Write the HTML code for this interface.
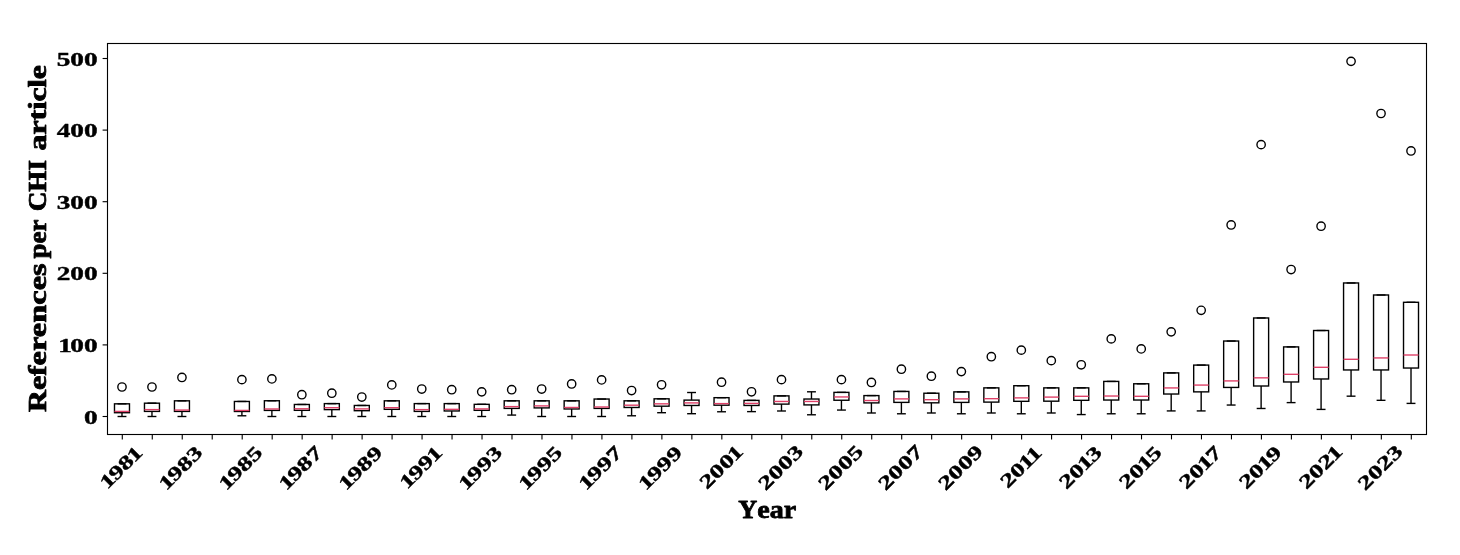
<!DOCTYPE html>
<html><head><meta charset="utf-8"><title>References per CHI article</title>
<style>
html,body{margin:0;padding:0;background:#fff;}
body{width:1460px;height:555px;overflow:hidden;font-family:"Liberation Serif",serif;}
svg{display:block;will-change:transform;}
text{font-family:"Liberation Serif",serif;font-weight:bold;fill:#000;}
</style></head><body>
<svg width="1460" height="555" viewBox="0 0 1460 555">
<rect x="0" y="0" width="1460" height="555" fill="#ffffff"/>

<g fill="none" stroke="#000" stroke-width="1.39" stroke-linecap="butt">
<path d="M121.99 412.71V416.50"/>
<path d="M118.24 416.50H125.74" stroke-linecap="square"/>
<path d="M118.24 403.83H125.74" stroke-linecap="square"/>
<rect x="114.49" y="403.83" width="14.99" height="8.88"/>
<path d="M151.97 411.42V416.50"/>
<path d="M148.22 416.50H155.71" stroke-linecap="square"/>
<path d="M148.22 403.18H155.71" stroke-linecap="square"/>
<rect x="144.47" y="403.18" width="14.99" height="8.23"/>
<path d="M181.94 411.42V416.50"/>
<path d="M178.20 416.50H185.69" stroke-linecap="square"/>
<path d="M178.20 400.82H185.69" stroke-linecap="square"/>
<rect x="174.45" y="400.82" width="14.99" height="10.60"/>
<path d="M241.90 411.49V415.78"/>
<path d="M238.15 415.78H245.64" stroke-linecap="square"/>
<path d="M238.15 401.46H245.64" stroke-linecap="square"/>
<rect x="234.40" y="401.46" width="14.99" height="10.02"/>
<path d="M271.88 410.41V416.50"/>
<path d="M268.13 416.50H275.62" stroke-linecap="square"/>
<path d="M268.13 400.75H275.62" stroke-linecap="square"/>
<rect x="264.38" y="400.75" width="14.99" height="9.67"/>
<path d="M301.85 410.34V416.50"/>
<path d="M298.11 416.50H305.60" stroke-linecap="square"/>
<path d="M298.11 404.47H305.60" stroke-linecap="square"/>
<rect x="294.36" y="404.47" width="14.99" height="5.87"/>
<path d="M331.83 409.63V416.50"/>
<path d="M328.08 416.50H335.58" stroke-linecap="square"/>
<path d="M328.08 403.61H335.58" stroke-linecap="square"/>
<rect x="324.34" y="403.61" width="14.99" height="6.01"/>
<path d="M361.81 410.70V416.50"/>
<path d="M358.06 416.50H365.55" stroke-linecap="square"/>
<path d="M358.06 405.47H365.55" stroke-linecap="square"/>
<rect x="354.31" y="405.47" width="14.99" height="5.23"/>
<path d="M391.78 409.34V416.50"/>
<path d="M388.04 416.50H395.53" stroke-linecap="square"/>
<path d="M388.04 400.82H395.53" stroke-linecap="square"/>
<rect x="384.29" y="400.82" width="14.99" height="8.52"/>
<path d="M421.76 411.42V416.50"/>
<path d="M418.01 416.50H425.51" stroke-linecap="square"/>
<path d="M418.01 403.61H425.51" stroke-linecap="square"/>
<rect x="414.27" y="403.61" width="14.99" height="7.80"/>
<path d="M451.74 410.99V416.50"/>
<path d="M447.99 416.50H455.49" stroke-linecap="square"/>
<path d="M447.99 403.61H455.49" stroke-linecap="square"/>
<rect x="444.24" y="403.61" width="14.99" height="7.37"/>
<path d="M481.72 410.34V416.50"/>
<path d="M477.97 416.50H485.46" stroke-linecap="square"/>
<path d="M477.97 404.33H485.46" stroke-linecap="square"/>
<rect x="474.22" y="404.33" width="14.99" height="6.01"/>
<path d="M511.69 408.41V415.07"/>
<path d="M507.95 415.07H515.44" stroke-linecap="square"/>
<path d="M507.95 400.82H515.44" stroke-linecap="square"/>
<rect x="504.20" y="400.82" width="14.99" height="7.59"/>
<path d="M541.67 407.91V416.50"/>
<path d="M537.92 416.50H545.42" stroke-linecap="square"/>
<path d="M537.92 400.82H545.42" stroke-linecap="square"/>
<rect x="534.18" y="400.82" width="14.99" height="7.09"/>
<path d="M571.65 408.98V416.50"/>
<path d="M567.90 416.50H575.39" stroke-linecap="square"/>
<path d="M567.90 400.82H575.39" stroke-linecap="square"/>
<rect x="564.15" y="400.82" width="14.99" height="8.16"/>
<path d="M601.62 408.41V416.50"/>
<path d="M597.88 416.50H605.37" stroke-linecap="square"/>
<path d="M597.88 399.03H605.37" stroke-linecap="square"/>
<rect x="594.13" y="399.03" width="14.99" height="9.38"/>
<path d="M631.60 407.48V415.78"/>
<path d="M627.86 415.78H635.35" stroke-linecap="square"/>
<path d="M627.86 400.82H635.35" stroke-linecap="square"/>
<rect x="624.11" y="400.82" width="14.99" height="6.66"/>
<path d="M661.58 406.19V412.71"/>
<path d="M657.83 412.71H665.33" stroke-linecap="square"/>
<path d="M657.83 398.81H665.33" stroke-linecap="square"/>
<rect x="654.09" y="398.81" width="14.99" height="7.37"/>
<path d="M691.56 405.47V413.71"/>
<path d="M687.81 413.71H695.30" stroke-linecap="square"/>
<path d="M691.56 400.10V392.51"/>
<path d="M687.81 392.51H695.30" stroke-linecap="square"/>
<rect x="684.06" y="400.10" width="14.99" height="5.37"/>
<path d="M721.53 405.19V411.77"/>
<path d="M717.79 411.77H725.28" stroke-linecap="square"/>
<path d="M717.79 397.67H725.28" stroke-linecap="square"/>
<rect x="714.04" y="397.67" width="14.99" height="7.52"/>
<path d="M751.51 405.47V411.63"/>
<path d="M747.76 411.63H755.26" stroke-linecap="square"/>
<path d="M747.76 400.39H755.26" stroke-linecap="square"/>
<rect x="744.02" y="400.39" width="14.99" height="5.08"/>
<path d="M781.49 404.11V410.99"/>
<path d="M777.74 410.99H785.24" stroke-linecap="square"/>
<path d="M777.74 395.88H785.24" stroke-linecap="square"/>
<rect x="773.99" y="395.88" width="14.99" height="8.23"/>
<path d="M811.47 404.90V414.78"/>
<path d="M807.72 414.78H815.21" stroke-linecap="square"/>
<path d="M811.47 399.03V391.80"/>
<path d="M807.72 391.80H815.21" stroke-linecap="square"/>
<rect x="803.97" y="399.03" width="14.99" height="5.87"/>
<path d="M841.44 400.25V410.06"/>
<path d="M837.70 410.06H845.19" stroke-linecap="square"/>
<path d="M837.70 392.37H845.19" stroke-linecap="square"/>
<rect x="833.95" y="392.37" width="14.99" height="7.88"/>
<path d="M871.42 402.90V412.99"/>
<path d="M867.67 412.99H875.17" stroke-linecap="square"/>
<path d="M867.67 395.59H875.17" stroke-linecap="square"/>
<rect x="863.93" y="395.59" width="14.99" height="7.30"/>
<path d="M901.40 402.39V413.78"/>
<path d="M897.65 413.78H905.14" stroke-linecap="square"/>
<path d="M897.65 391.44H905.14" stroke-linecap="square"/>
<rect x="893.90" y="391.44" width="14.99" height="10.95"/>
<path d="M931.38 402.82V412.99"/>
<path d="M927.63 412.99H935.12" stroke-linecap="square"/>
<path d="M927.63 393.23H935.12" stroke-linecap="square"/>
<rect x="923.88" y="393.23" width="14.99" height="9.59"/>
<path d="M961.35 402.39V413.78"/>
<path d="M957.61 413.78H965.10" stroke-linecap="square"/>
<path d="M957.61 391.87H965.10" stroke-linecap="square"/>
<rect x="953.86" y="391.87" width="14.99" height="10.53"/>
<path d="M991.33 402.11V412.99"/>
<path d="M987.58 412.99H995.08" stroke-linecap="square"/>
<path d="M987.58 387.86H995.08" stroke-linecap="square"/>
<rect x="983.84" y="387.86" width="14.99" height="14.25"/>
<path d="M1021.31 401.32V413.78"/>
<path d="M1017.56 413.78H1025.05" stroke-linecap="square"/>
<path d="M1017.56 385.71H1025.05" stroke-linecap="square"/>
<rect x="1013.81" y="385.71" width="14.99" height="15.61"/>
<path d="M1051.28 401.18V412.99"/>
<path d="M1047.54 412.99H1055.03" stroke-linecap="square"/>
<path d="M1047.54 387.86H1055.03" stroke-linecap="square"/>
<rect x="1043.79" y="387.86" width="14.99" height="13.32"/>
<path d="M1081.26 400.32V414.57"/>
<path d="M1077.51 414.57H1085.01" stroke-linecap="square"/>
<path d="M1077.51 387.86H1085.01" stroke-linecap="square"/>
<rect x="1073.77" y="387.86" width="14.99" height="12.46"/>
<path d="M1111.24 400.03V413.78"/>
<path d="M1107.49 413.78H1114.99" stroke-linecap="square"/>
<path d="M1107.49 381.42H1114.99" stroke-linecap="square"/>
<rect x="1103.74" y="381.42" width="14.99" height="18.62"/>
<path d="M1141.22 400.03V413.78"/>
<path d="M1137.47 413.78H1144.96" stroke-linecap="square"/>
<path d="M1137.47 383.78H1144.96" stroke-linecap="square"/>
<rect x="1133.72" y="383.78" width="14.99" height="16.25"/>
<path d="M1171.19 394.02V410.92"/>
<path d="M1167.45 410.92H1174.94" stroke-linecap="square"/>
<path d="M1167.45 372.90H1174.94" stroke-linecap="square"/>
<rect x="1163.70" y="372.90" width="14.99" height="21.12"/>
<path d="M1201.17 391.87V410.92"/>
<path d="M1197.42 410.92H1204.92" stroke-linecap="square"/>
<path d="M1197.42 365.09H1204.92" stroke-linecap="square"/>
<rect x="1193.68" y="365.09" width="14.99" height="26.78"/>
<path d="M1231.15 387.43V405.04"/>
<path d="M1227.40 405.04H1234.89" stroke-linecap="square"/>
<path d="M1227.40 341.03H1234.89" stroke-linecap="square"/>
<rect x="1223.65" y="341.03" width="14.99" height="46.40"/>
<path d="M1261.12 386.00V408.48"/>
<path d="M1257.38 408.48H1264.87" stroke-linecap="square"/>
<path d="M1257.38 317.98H1264.87" stroke-linecap="square"/>
<rect x="1253.63" y="317.98" width="14.99" height="68.02"/>
<path d="M1291.10 381.99V402.61"/>
<path d="M1287.36 402.61H1294.85" stroke-linecap="square"/>
<path d="M1287.36 346.90H1294.85" stroke-linecap="square"/>
<rect x="1283.61" y="346.90" width="14.99" height="35.08"/>
<path d="M1321.08 378.98V409.41"/>
<path d="M1317.33 409.41H1324.83" stroke-linecap="square"/>
<path d="M1317.33 330.51H1324.83" stroke-linecap="square"/>
<rect x="1313.59" y="330.51" width="14.99" height="48.47"/>
<path d="M1351.06 369.96V396.17"/>
<path d="M1347.31 396.17H1354.80" stroke-linecap="square"/>
<path d="M1347.31 282.97H1354.80" stroke-linecap="square"/>
<rect x="1343.56" y="282.97" width="14.99" height="86.99"/>
<path d="M1381.03 369.96V400.32"/>
<path d="M1377.29 400.32H1384.78" stroke-linecap="square"/>
<path d="M1377.29 294.99H1384.78" stroke-linecap="square"/>
<rect x="1373.54" y="294.99" width="14.99" height="74.97"/>
<path d="M1411.01 368.03V403.40"/>
<path d="M1407.26 403.40H1414.76" stroke-linecap="square"/>
<path d="M1407.26 302.30H1414.76" stroke-linecap="square"/>
<rect x="1403.52" y="302.30" width="14.99" height="65.73"/>
</g>
<g fill="none" stroke="#de3f67" stroke-width="1.39">
<path d="M114.49 411.42H129.48"/>
<path d="M144.47 409.63H159.46"/>
<path d="M174.45 410.06H189.44"/>
<path d="M234.40 410.41H249.39"/>
<path d="M264.38 408.98H279.37"/>
<path d="M294.36 408.77H309.35"/>
<path d="M324.34 407.69H339.32"/>
<path d="M354.31 408.91H369.30"/>
<path d="M384.29 407.69H399.28"/>
<path d="M414.27 409.63H429.26"/>
<path d="M444.24 409.34H459.23"/>
<path d="M474.22 408.91H489.21"/>
<path d="M504.20 406.62H519.19"/>
<path d="M534.18 405.90H549.16"/>
<path d="M564.15 407.48H579.14"/>
<path d="M594.13 406.98H609.12"/>
<path d="M624.11 405.19H639.10"/>
<path d="M654.09 403.83H669.07"/>
<path d="M684.06 402.90H699.05"/>
<path d="M714.04 403.61H729.03"/>
<path d="M744.02 403.40H759.01"/>
<path d="M773.99 401.46H788.98"/>
<path d="M803.97 401.46H818.96"/>
<path d="M833.95 396.95H848.94"/>
<path d="M863.93 400.53H878.91"/>
<path d="M893.90 398.89H908.89"/>
<path d="M923.88 399.67H938.87"/>
<path d="M953.86 398.89H968.85"/>
<path d="M983.84 398.67H998.82"/>
<path d="M1013.81 397.88H1028.80"/>
<path d="M1043.79 397.10H1058.78"/>
<path d="M1073.77 396.31H1088.76"/>
<path d="M1103.74 396.02H1118.73"/>
<path d="M1133.72 396.31H1148.71"/>
<path d="M1163.70 387.93H1178.69"/>
<path d="M1193.68 385.07H1208.66"/>
<path d="M1223.65 380.91H1238.64"/>
<path d="M1253.63 377.84H1268.62"/>
<path d="M1283.61 374.33H1298.60"/>
<path d="M1313.59 367.31H1328.57"/>
<path d="M1343.56 359.29H1358.55"/>
<path d="M1373.54 357.93H1388.53"/>
<path d="M1403.52 355.00H1418.51"/>
</g>
<g fill="none" stroke="#000" stroke-width="1.39">
<circle cx="121.99" cy="387.00" r="4.17"/>
<circle cx="151.97" cy="387.00" r="4.17"/>
<circle cx="181.94" cy="377.48" r="4.17"/>
<circle cx="241.90" cy="379.63" r="4.17"/>
<circle cx="271.88" cy="378.91" r="4.17"/>
<circle cx="301.85" cy="394.73" r="4.17"/>
<circle cx="331.83" cy="393.23" r="4.17"/>
<circle cx="361.81" cy="397.02" r="4.17"/>
<circle cx="391.78" cy="384.92" r="4.17"/>
<circle cx="421.76" cy="389.01" r="4.17"/>
<circle cx="451.74" cy="389.72" r="4.17"/>
<circle cx="481.72" cy="391.87" r="4.17"/>
<circle cx="511.69" cy="389.72" r="4.17"/>
<circle cx="541.67" cy="389.01" r="4.17"/>
<circle cx="571.65" cy="383.99" r="4.17"/>
<circle cx="601.62" cy="379.91" r="4.17"/>
<circle cx="631.60" cy="390.51" r="4.17"/>
<circle cx="661.58" cy="384.78" r="4.17"/>
<circle cx="721.53" cy="382.20" r="4.17"/>
<circle cx="751.51" cy="391.80" r="4.17"/>
<circle cx="781.49" cy="379.63" r="4.17"/>
<circle cx="841.44" cy="379.63" r="4.17"/>
<circle cx="871.42" cy="382.49" r="4.17"/>
<circle cx="901.40" cy="369.24" r="4.17"/>
<circle cx="931.38" cy="376.19" r="4.17"/>
<circle cx="961.35" cy="371.61" r="4.17"/>
<circle cx="991.33" cy="356.71" r="4.17"/>
<circle cx="1021.31" cy="350.13" r="4.17"/>
<circle cx="1051.28" cy="360.65" r="4.17"/>
<circle cx="1081.26" cy="364.80" r="4.17"/>
<circle cx="1111.24" cy="338.89" r="4.17"/>
<circle cx="1141.22" cy="348.91" r="4.17"/>
<circle cx="1171.19" cy="331.87" r="4.17"/>
<circle cx="1201.17" cy="310.32" r="4.17"/>
<circle cx="1231.15" cy="224.97" r="4.17"/>
<circle cx="1261.12" cy="144.63" r="4.17"/>
<circle cx="1291.10" cy="269.51" r="4.17"/>
<circle cx="1321.08" cy="226.19" r="4.17"/>
<circle cx="1351.06" cy="61.36" r="4.17"/>
<circle cx="1381.03" cy="113.49" r="4.17"/>
<circle cx="1411.01" cy="150.94" r="4.17"/>
</g>
<rect x="107.5" y="43.5" width="1319.0" height="391.0" fill="none" stroke="#000" stroke-width="1.11"/>
<g stroke="#000" stroke-width="1.11">
<path d="M122.29 434.5V439.4"/>
<path d="M152.27 434.5V439.4"/>
<path d="M182.24 434.5V439.4"/>
<path d="M212.22 434.5V439.4"/>
<path d="M242.20 434.5V439.4"/>
<path d="M272.18 434.5V439.4"/>
<path d="M302.15 434.5V439.4"/>
<path d="M332.13 434.5V439.4"/>
<path d="M362.11 434.5V439.4"/>
<path d="M392.08 434.5V439.4"/>
<path d="M422.06 434.5V439.4"/>
<path d="M452.04 434.5V439.4"/>
<path d="M482.02 434.5V439.4"/>
<path d="M511.99 434.5V439.4"/>
<path d="M541.97 434.5V439.4"/>
<path d="M571.95 434.5V439.4"/>
<path d="M601.92 434.5V439.4"/>
<path d="M631.90 434.5V439.4"/>
<path d="M661.88 434.5V439.4"/>
<path d="M691.86 434.5V439.4"/>
<path d="M721.83 434.5V439.4"/>
<path d="M751.81 434.5V439.4"/>
<path d="M781.79 434.5V439.4"/>
<path d="M811.77 434.5V439.4"/>
<path d="M841.74 434.5V439.4"/>
<path d="M871.72 434.5V439.4"/>
<path d="M901.70 434.5V439.4"/>
<path d="M931.67 434.5V439.4"/>
<path d="M961.65 434.5V439.4"/>
<path d="M991.63 434.5V439.4"/>
<path d="M1021.61 434.5V439.4"/>
<path d="M1051.58 434.5V439.4"/>
<path d="M1081.56 434.5V439.4"/>
<path d="M1111.54 434.5V439.4"/>
<path d="M1141.52 434.5V439.4"/>
<path d="M1171.49 434.5V439.4"/>
<path d="M1201.47 434.5V439.4"/>
<path d="M1231.45 434.5V439.4"/>
<path d="M1261.42 434.5V439.4"/>
<path d="M1291.40 434.5V439.4"/>
<path d="M1321.38 434.5V439.4"/>
<path d="M1351.36 434.5V439.4"/>
<path d="M1381.33 434.5V439.4"/>
<path d="M1411.31 434.5V439.4"/>
<path d="M107.5 416.50H102.6"/>
<path d="M107.5 344.90H102.6"/>
<path d="M107.5 273.30H102.6"/>
<path d="M107.5 201.70H102.6"/>
<path d="M107.5 130.10H102.6"/>
<path d="M107.5 58.50H102.6"/>
</g>
<text transform="translate(97.60 423.50) scale(1.4200 1)" x="-9.60" y="0" font-size="19.20" stroke="#000" stroke-width="0.40" stroke-linejoin="round">0</text>
<text transform="translate(97.60 351.90) scale(1.4200 1)" x="-27.75 -19.20 -9.60" y="0" font-size="19.20" stroke="#000" stroke-width="0.40" stroke-linejoin="round">100</text>
<text transform="translate(97.60 280.30) scale(1.4200 1)" x="-28.80 -19.20 -9.60" y="0" font-size="19.20" stroke="#000" stroke-width="0.40" stroke-linejoin="round">200</text>
<text transform="translate(97.60 208.70) scale(1.4200 1)" x="-28.80 -19.20 -9.60" y="0" font-size="19.20" stroke="#000" stroke-width="0.40" stroke-linejoin="round">300</text>
<text transform="translate(97.60 137.10) scale(1.4200 1)" x="-28.80 -19.20 -9.60" y="0" font-size="19.20" stroke="#000" stroke-width="0.40" stroke-linejoin="round">400</text>
<text transform="translate(97.60 65.50) scale(1.4200 1)" x="-28.80 -19.20 -9.60" y="0" font-size="19.20" stroke="#000" stroke-width="0.40" stroke-linejoin="round">500</text>
<g transform="translate(120.89 467.2) rotate(-45)"><text transform="translate(0.00 6.60) scale(1.4200 1)" x="-18.15 -9.60 -0.00 8.55" y="0" font-size="19.20" stroke="#000" stroke-width="0.40" stroke-linejoin="round">1981</text></g>
<g transform="translate(180.84 467.2) rotate(-45)"><text transform="translate(0.00 6.60) scale(1.4200 1)" x="-19.20 -10.65 -1.05 8.55" y="0" font-size="19.20" stroke="#000" stroke-width="0.40" stroke-linejoin="round">1983</text></g>
<g transform="translate(240.80 467.2) rotate(-45)"><text transform="translate(0.00 6.60) scale(1.4200 1)" x="-19.20 -10.65 -1.05 8.55" y="0" font-size="19.20" stroke="#000" stroke-width="0.40" stroke-linejoin="round">1985</text></g>
<g transform="translate(300.75 467.2) rotate(-45)"><text transform="translate(0.00 6.60) scale(1.4200 1)" x="-19.20 -10.65 -1.05 8.55" y="0" font-size="19.20" stroke="#000" stroke-width="0.40" stroke-linejoin="round">1987</text></g>
<g transform="translate(360.71 467.2) rotate(-45)"><text transform="translate(0.00 6.60) scale(1.4200 1)" x="-19.20 -10.65 -1.05 8.55" y="0" font-size="19.20" stroke="#000" stroke-width="0.40" stroke-linejoin="round">1989</text></g>
<g transform="translate(420.66 467.2) rotate(-45)"><text transform="translate(0.00 6.60) scale(1.4200 1)" x="-18.15 -9.60 -0.00 8.55" y="0" font-size="19.20" stroke="#000" stroke-width="0.40" stroke-linejoin="round">1991</text></g>
<g transform="translate(480.62 467.2) rotate(-45)"><text transform="translate(0.00 6.60) scale(1.4200 1)" x="-19.20 -10.65 -1.05 8.55" y="0" font-size="19.20" stroke="#000" stroke-width="0.40" stroke-linejoin="round">1993</text></g>
<g transform="translate(540.57 467.2) rotate(-45)"><text transform="translate(0.00 6.60) scale(1.4200 1)" x="-19.20 -10.65 -1.05 8.55" y="0" font-size="19.20" stroke="#000" stroke-width="0.40" stroke-linejoin="round">1995</text></g>
<g transform="translate(600.52 467.2) rotate(-45)"><text transform="translate(0.00 6.60) scale(1.4200 1)" x="-19.20 -10.65 -1.05 8.55" y="0" font-size="19.20" stroke="#000" stroke-width="0.40" stroke-linejoin="round">1997</text></g>
<g transform="translate(660.48 467.2) rotate(-45)"><text transform="translate(0.00 6.60) scale(1.4200 1)" x="-19.20 -10.65 -1.05 8.55" y="0" font-size="19.20" stroke="#000" stroke-width="0.40" stroke-linejoin="round">1999</text></g>
<g transform="translate(720.43 467.2) rotate(-45)"><text transform="translate(0.00 6.60) scale(1.4200 1)" x="-18.15 -8.55 1.05 9.60" y="0" font-size="19.20" stroke="#000" stroke-width="0.40" stroke-linejoin="round">2001</text></g>
<g transform="translate(780.39 467.2) rotate(-45)"><text transform="translate(0.00 6.60) scale(1.4200 1)" x="-19.20 -9.60 0.00 9.60" y="0" font-size="19.20" stroke="#000" stroke-width="0.40" stroke-linejoin="round">2003</text></g>
<g transform="translate(840.34 467.2) rotate(-45)"><text transform="translate(0.00 6.60) scale(1.4200 1)" x="-19.20 -9.60 0.00 9.60" y="0" font-size="19.20" stroke="#000" stroke-width="0.40" stroke-linejoin="round">2005</text></g>
<g transform="translate(900.30 467.2) rotate(-45)"><text transform="translate(0.00 6.60) scale(1.4200 1)" x="-19.20 -9.60 0.00 9.60" y="0" font-size="19.20" stroke="#000" stroke-width="0.40" stroke-linejoin="round">2007</text></g>
<g transform="translate(960.25 467.2) rotate(-45)"><text transform="translate(0.00 6.60) scale(1.4200 1)" x="-19.20 -9.60 0.00 9.60" y="0" font-size="19.20" stroke="#000" stroke-width="0.40" stroke-linejoin="round">2009</text></g>
<g transform="translate(1020.21 467.2) rotate(-45)"><text transform="translate(0.00 6.60) scale(1.4200 1)" x="-17.10 -7.50 1.05 8.55" y="0" font-size="19.20" stroke="#000" stroke-width="0.40" stroke-linejoin="round">2011</text></g>
<g transform="translate(1080.16 467.2) rotate(-45)"><text transform="translate(0.00 6.60) scale(1.4200 1)" x="-18.15 -8.55 0.00 8.55" y="0" font-size="19.20" stroke="#000" stroke-width="0.40" stroke-linejoin="round">2013</text></g>
<g transform="translate(1140.12 467.2) rotate(-45)"><text transform="translate(0.00 6.60) scale(1.4200 1)" x="-18.15 -8.55 0.00 8.55" y="0" font-size="19.20" stroke="#000" stroke-width="0.40" stroke-linejoin="round">2015</text></g>
<g transform="translate(1200.07 467.2) rotate(-45)"><text transform="translate(0.00 6.60) scale(1.4200 1)" x="-18.15 -8.55 0.00 8.55" y="0" font-size="19.20" stroke="#000" stroke-width="0.40" stroke-linejoin="round">2017</text></g>
<g transform="translate(1260.02 467.2) rotate(-45)"><text transform="translate(0.00 6.60) scale(1.4200 1)" x="-18.15 -8.55 0.00 8.55" y="0" font-size="19.20" stroke="#000" stroke-width="0.40" stroke-linejoin="round">2019</text></g>
<g transform="translate(1319.98 467.2) rotate(-45)"><text transform="translate(0.00 6.60) scale(1.4200 1)" x="-18.15 -8.55 1.05 9.60" y="0" font-size="19.20" stroke="#000" stroke-width="0.40" stroke-linejoin="round">2021</text></g>
<g transform="translate(1379.93 467.2) rotate(-45)"><text transform="translate(0.00 6.60) scale(1.4200 1)" x="-19.20 -9.60 0.00 9.60" y="0" font-size="19.20" stroke="#000" stroke-width="0.40" stroke-linejoin="round">2023</text></g>
<text transform="translate(738.30 518.00) scale(1.0800 1.0000)" font-size="24.30" text-anchor="start" stroke="#000" stroke-width="0.80" stroke-linejoin="round" xml:space="preserve"><tspan font-size="24.30">Y</tspan><tspan font-size="26.00">ear</tspan></text>
<text transform="translate(46.20 412.00) rotate(-90) scale(1.2500 1.0000)" font-size="24.30" text-anchor="start" stroke="#000" stroke-width="0.80" stroke-linejoin="round" xml:space="preserve"><tspan font-size="24.30">R</tspan><tspan font-size="26.00">e</tspan><tspan font-size="24.30">f</tspan><tspan font-size="26.00">erences</tspan></text>
<text transform="translate(46.20 258.40) rotate(-90) scale(1.0330 1.0000)" font-size="24.30" text-anchor="start" stroke="#000" stroke-width="0.80" stroke-linejoin="round" xml:space="preserve"><tspan font-size="26.00">per</tspan></text>
<text transform="translate(46.20 211.30) rotate(-90) scale(1.1200 1.0000)" font-size="24.30" text-anchor="start" stroke="#000" stroke-width="0.80" stroke-linejoin="round" xml:space="preserve"><tspan font-size="24.30">CHI</tspan></text>
<text transform="translate(46.20 150.50) rotate(-90) scale(1.2250 1.0000)" font-size="24.30" text-anchor="start" stroke="#000" stroke-width="0.80" stroke-linejoin="round" xml:space="preserve"><tspan font-size="26.00">art</tspan><tspan font-size="24.30">i</tspan><tspan font-size="26.00">c</tspan><tspan font-size="24.30">l</tspan><tspan font-size="26.00">e</tspan></text>
</svg></body></html>
